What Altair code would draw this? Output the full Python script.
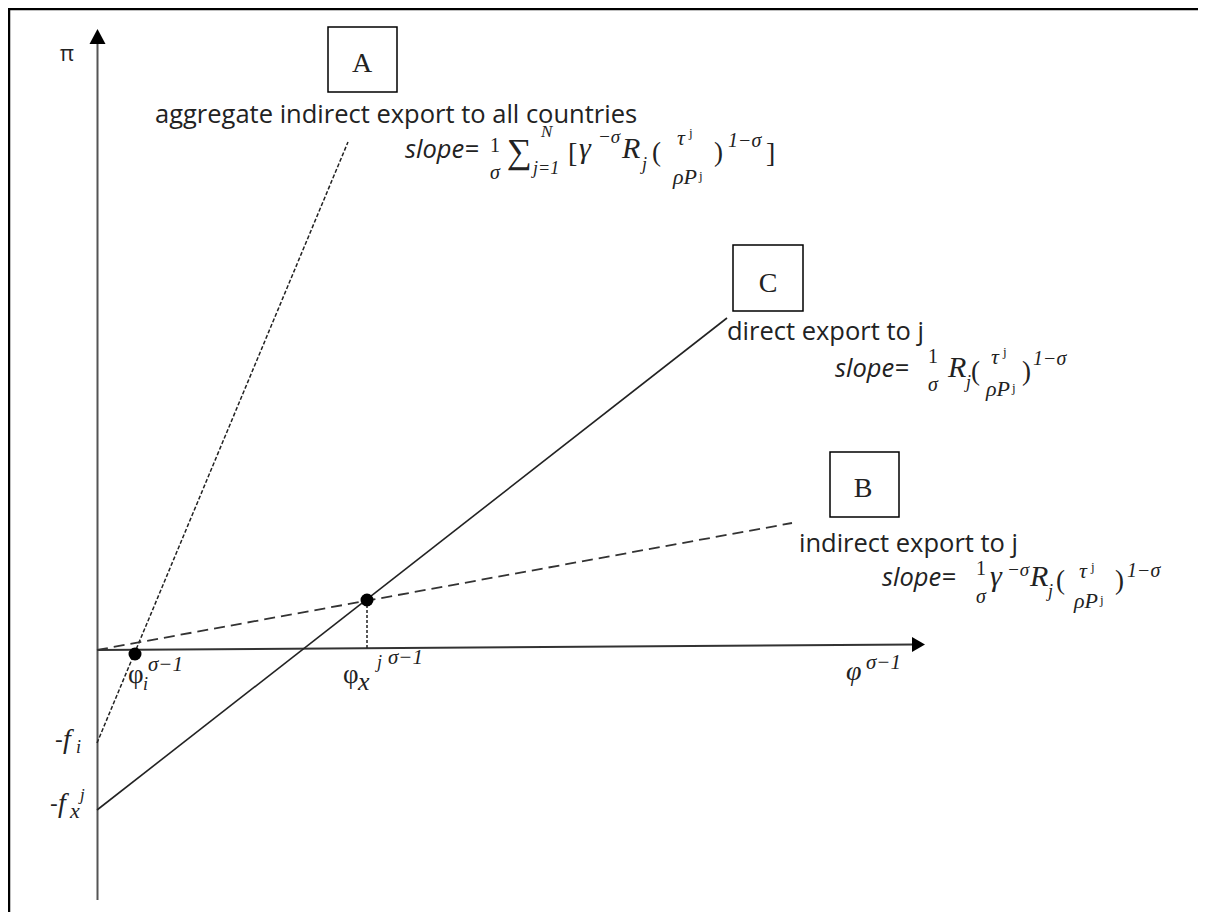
import altair as alt
import pandas as pd

# Diagram units: 1 unit = 1 px, origin where the two axes cross (x right, y up)
X_DOMAIN = [-89, 1101]
Y_DOMAIN = [-262, 642]

# ---- read values -------------------------------------------------------
line_names = ["A", "C", "B"]
line_x0 = [0, 0, 0]
line_y0 = [-93, -160, 0]          # -f_i, -f_x^j, 0
line_x1 = [251, 630, 695]
line_y1 = [508, 332, 127]

dot_x = [38, 270]                 # phi_i^(sigma-1), phi_x^j(sigma-1)
dot_y = [-4, 50]

axis_x0 = [0.5, 0]
axis_y0 = [-250, 0]
axis_x1 = [0.5, 818]
axis_y1 = [608, 5.5]

box_labels = ["A", "C", "B"]
box_x0 = [231, 636, 733]
box_x1 = [300, 706, 802]
box_y0 = [558, 339, 133]
box_y1 = [623, 405, 198]

xs = alt.Scale(domain=X_DOMAIN, nice=False, zero=False)
ys = alt.Scale(domain=Y_DOMAIN, nice=False, zero=False)


def X(f="x"):
    return alt.X(f"{f}:Q", scale=xs, axis=None)


def Y(f="y"):
    return alt.Y(f"{f}:Q", scale=ys, axis=None)


def seg_layer(df, color, width, dash=None):
    kw = dict(color=color, strokeWidth=width)
    if dash:
        kw["strokeDash"] = dash
    return alt.Chart(df).mark_rule(**kw).encode(
        x=X("x"), y=Y("y"), x2="x2:Q", y2="y2:Q")


layers = []

# frame (top and left edges)
frame = pd.DataFrame({"x": [-89, -88], "y": [641, -262], "x2": [1101, -88], "y2": [641, 642]})
layers.append(seg_layer(frame, "#000000", 2.5))

# axes
axes_df = pd.DataFrame({"x": axis_x0, "y": axis_y0, "x2": axis_x1, "y2": axis_y1})
layers.append(seg_layer(axes_df.iloc[[0]], "#555555", 2))
layers.append(seg_layer(axes_df.iloc[[1]], "#333333", 2))

# arrow heads
up = pd.DataFrame({"x": [0.5], "y": [613]})
right = pd.DataFrame({"x": [820], "y": [5.5]})
layers.append(alt.Chart(up).mark_point(shape="M0,-1L1,0.875L-1,0.875Z", filled=True, size=256,
                                       color="#000000", opacity=1).encode(x=X(), y=Y()))
layers.append(alt.Chart(right).mark_point(shape="M1,0L-0.625,-0.9375L-0.625,0.9375Z", filled=True,
                                          size=256, color="#000000", opacity=1).encode(x=X(), y=Y()))

# the three profit lines
lines = pd.DataFrame({"name": line_names, "x": line_x0, "y": line_y0, "x2": line_x1, "y2": line_y1})
layers.append(seg_layer(lines[lines.name == "A"], "#222222", 1.5, [4, 2]))
layers.append(seg_layer(lines[lines.name == "C"], "#222222", 1.6))
layers.append(seg_layer(lines[lines.name == "B"], "#333333", 1.8, [11, 6]))

# vertical dotted drop line from the intersection
drop = pd.DataFrame({"x": [dot_x[1]], "y": [dot_y[1]], "x2": [dot_x[1]], "y2": [1]})
layers.append(seg_layer(drop, "#222222", 1.5, [3, 2]))

# dots
dots = pd.DataFrame({"x": dot_x, "y": dot_y})
layers.append(alt.Chart(dots).mark_circle(size=169, color="#000000", opacity=1).encode(x=X(), y=Y()))

# boxes
boxes = pd.DataFrame({"x": box_x0, "x2": box_x1, "y": box_y0, "y2": box_y1, "t": box_labels})
layers.append(alt.Chart(boxes).mark_rect(fill="#ffffff", stroke="#000000", strokeWidth=1.5).encode(
    x=X("x"), x2="x2:Q", y=Y("y"), y2="y2:Q"))

# ---- text annotations (layout) ----------------------------------------
SANS = "Open Sans"
SERIF = "Liberation Serif"
T = 25.5   # label text size
M = 30     # main math size
S = 20     # superscript size
F = 22     # fraction tau / rho P size
J = 13     # tiny j

groups = [
    (SANS, "normal", "left", [
        (58, 527, "aggregate indirect export to all countries", T),
        (630, 310, "direct export to j", T),
        (702, 98, "indirect export to j", T),
        (-42, -98, "-", 24),
        (-47, -162, "-", 24),
    ]),
    (SANS, "normal", "center", [
        (-30, 589, "π", 22),
    ]),
    (SANS, "italic", "left", [
        (308, 492, "slope=", T),
        (738, 273, "slope=", T),
        (785, 64, "slope=", T),
    ]),
    (SERIF, "normal", "left", [
        (31, -33, "φ", 27),
        (246, -33, "φ", 27),
        (410, 487, "∑", 35),
        (471, 488, "[", 28), (669, 488, "]", 28),
        (555, 489, "(", 27), (617, 489, ")", 27),
        (874, 270, "(", 27), (925, 270, ")", 27),
        (959, 61, "(", 27), (1018, 61, ")", 27),
        (592, 513, "j", J), (602, 470, "j", J),
        (906, 294, "j", J), (915, 258, "j", J),
        (994, 79, "j", J), (1003, 46, "j", J),
    ]),
    (SERIF, "normal", "center", [
        (398, 498, "1", 20), (836, 287, "1", 20), (884, 75, "1", 20),
        (265, 578, "A", 28), (671, 358, "C", 28), (766, 153, "B", 28),
    ]),
    (SERIF, "italic", "center", [
        (398, 471, "σ", 20), (836, 259, "σ", 20), (884, 47, "σ", 20),
        (584, 505, "τ", F), (898, 286, "τ", F), (986, 72, "τ", F),
        (588, 466, "ρP", F), (901, 254, "ρP", F), (989, 42, "ρP", F),
    ]),
    (SERIF, "italic", "left", [
        (444, 513, "N", 17), (436, 476, "j=1", 18), (482, 492, "γ", M),
        (501, 507, "−σ", 19), (525, 492, "R", M), (545, 480, "j", 18),
        (631, 503, "1−σ", S),
        (851, 273, "R", M), (869, 262, "j", 18), (936, 285, "1−σ", S),
        (893, 64, "γ", M), (910, 74, "−σ", 19), (933, 64, "R", M),
        (951, 53, "j", 18), (1030, 73, "1−σ", S),
        (46, -40, "i", 18), (51, -21, "σ−1", 21),
        (261, -40, "x", 26), (280, -18, "j", 18), (291, -14, "σ−1", 21),
        (749, -30, "φ", 28), (769, -19, "σ−1", 21),
        (-34, -98, "f", 28), (-21, -103, "i", 18),
        (-39, -162, "f", 28), (-27, -168, "x", 22), (-17, -150, "j", 17),
    ]),
]

for font, style, align, rows in groups:
    df = pd.DataFrame(rows, columns=["x", "y", "t", "s"])
    layers.append(alt.Chart(df).mark_text(font=font, fontStyle=style, align=align,
                                          baseline="alphabetic", color="#222222").encode(
        x=X(), y=Y(), text="t:N", size=alt.Size("s:Q", scale=None)))

chart = alt.layer(*layers).properties(
    width=1190, height=904, padding=0,
    autosize=alt.AutoSizeParams(type="none"),
).configure_view(stroke=None)

chart.save("out.html", embed_options={"renderer": "svg", "actions": False})
